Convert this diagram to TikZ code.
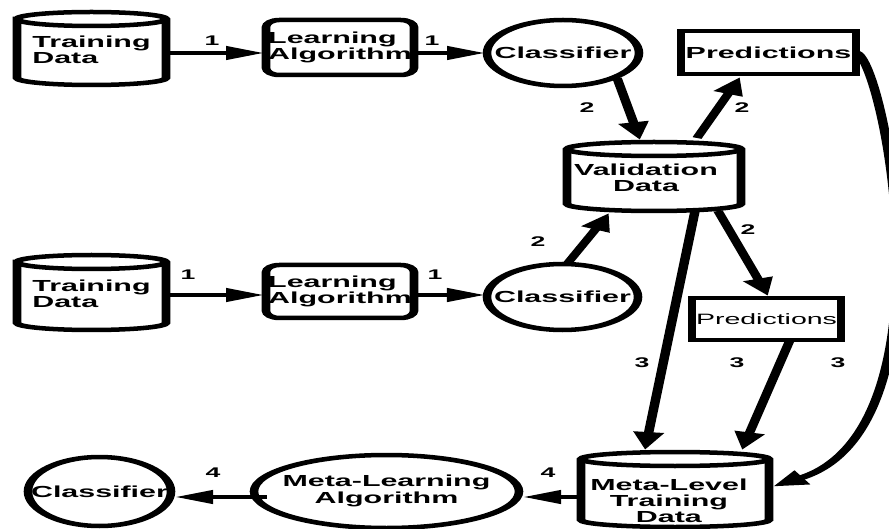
\documentclass[tikz,border=0pt]{standalone}
\usepackage{fontspec}
\setmainfont{Liberation Sans}
\usetikzlibrary{arrows.meta,calc,shapes.geometric}
\newcommand\cylpath[5]{%
  \draw[shp] (#1,{#2+#5}) -- (#1,{#4-#5})
    arc[start angle=180,end angle=360,x radius={(#3-#1)/2*0.526316pt},y radius=#5pt]
    -- (#3,{#2+#5})
    arc[start angle=0,end angle=180,x radius={(#3-#1)/2*0.526316pt},y radius=#5pt] -- cycle;
  \draw[shp,fill=none] (#1,{#2+#5}) arc[start angle=180,end angle=360,x radius={(#3-#1)/2*0.526316pt},y radius=#5pt];
}
\begin{document}
\begin{tikzpicture}[x=1pt,y=-1pt]
\fill[white] (0,0) rectangle (889,529);
\useasboundingbox (0,0) rectangle (889,529);
\begin{scope}[transform canvas={xscale=1.9}, x=0.526316pt, y=-1pt,
  every node/.style={font=\fontsize{16}{16}\selectfont\bfseries, inner sep=0pt, outer sep=0pt},
  shp/.style={line width=4.5pt, fill=white, draw=black},
  cylbox/.style={rectangle, draw=none},
  rbox/.style={rectangle, rounded corners=7pt, line width=4.5pt, draw, fill=white},
  pbox/.style={rectangle, line width=4.5pt, draw, fill=white},
  oval/.style={ellipse, line width=4.5pt, draw, fill=white},
  arrA/.style={line width=4pt, -{Triangle[length=20pt,width=13pt]}},
  arrB/.style={line width=5pt, -{Triangle[length=18pt,width=15pt]}},
  num/.style={font=\fontsize{14}{14}\selectfont\bfseries}]

% cylinders
\cylpath{17}{12}{166}{85}{7}
\node[cylbox, minimum width=78.4pt, minimum height=73pt, align=left] (td1) at (91.5,49.5) {Training\\Data};
\cylpath{567}{142}{741}{211}{7}
\node[cylbox, minimum width=91.6pt, minimum height=69pt,
  label={[name=valtxt, align=center, xshift=-4.2pt, yshift=-1.5pt]center:Validation\\Data}] (val) at (654,176.5) {};
\cylpath{17}{255}{166}{330}{7}
\node[cylbox, minimum width=78.4pt, minimum height=75pt, align=left] (td2) at (91.5,293.5) {Training\\Data};
\cylpath{581}{452}{769}{527}{7}
\node[cylbox, minimum width=98.9pt, minimum height=75pt,
  label={[name=mlttxt, align=center, xshift=-3.2pt, yshift=-11pt]center:Meta-Level\\Training\\Data}] (mlt) at (675,489.5) {};

% boxes
\node[rbox, minimum width=77.9pt, minimum height=55pt, align=left] (la1) at (340,47.5) {Learning\\Algorithm};
\node[rbox, minimum width=77.9pt, minimum height=53pt, align=left] (la2) at (340,291.5) {Learning\\Algorithm};
\node[pbox, minimum width=92.1pt, minimum height=43pt] (pr1) at (768.5,52.5) {Predictions};
\node[pbox, minimum width=78.4pt, minimum height=42pt, font=\fontsize{15}{15}\selectfont\mdseries] (pr2) at (766.5,319) {Predictions};

% ellipses
\node[oval, minimum width=80pt, minimum height=66pt] (cls1) at (563,53) {\makebox[0pt]{Classifier}};
\node[oval, minimum width=79.5pt, minimum height=66pt] (cls2) at (562.5,297) {\makebox[0pt]{Classifier}};
\node[oval, minimum width=75.3pt, minimum height=69pt] (cls3) at (99.5,491.5) {\makebox[0pt]{Classifier}};
\node[oval, minimum width=139.5pt, minimum height=73pt] (ml) at (386.5,491.5)
  {\makebox[0pt]{\begin{tabular}{@{}c@{}}Meta-Learning\\Algorithm\end{tabular}}};

% connectors
\draw[arrA] ($(td1.east)+(0,3.5)$) -- ($(la1.west)+(-2,5.5)$);
\draw[arrA] ($(la1.east)+(2,5.5)$) -- ($(cls1.west)+(-2,0)$);
\draw[arrA] ($(td2.east)+(0,1.5)$) -- ($(la2.west)+(-2,3.5)$);
\draw[arrA] ($(la2.east)+(2,3.5)$) -- ($(cls2.west)+(-2,-2)$);
\draw[arrB] ($(cls1.center)+(54,25)$) -- ($(val.north)+(-14,-2)$);
\draw[arrB] ($(val.north)+(43,-4)$) -- ($(pr1.south)+(-28.5,3)$);
\draw[arrB] ($(cls2.north)+(4.5,0)$) -- ($(val.south)+(-45,2)$);
\draw[arrB] ($(val.south)+(64,0)$) -- ($(pr2.north)+(1.5,-2)$);
\draw[arrB] ($(val.south)+(41,0)$) -- ($(mlt.north)+(-30,-2)$);
\draw[arrB] ($(pr2.south)+(23.5,0)$) -- ($(mlt.north)+(67,-2)$);
\draw[arrB] (pr1.east) .. controls (885,60) and (955,430) .. ($(mlt.east)+(4,-3)$);
\draw[arrA] ($(mlt.west)+(0,7.5)$) -- ($(ml.east)+(4,5.5)$);
\draw[arrA] ($(ml.west)+(13,5.5)$) -- ($(cls3.east)+(4,5.5)$);

% labels
\node[num] (l1) at (212,41) {1};
\node[num] (l2) at (432,41) {1};
\node[num] (l3) at (587,108) {2};
\node[num] (l4) at (742,108) {2};
\node[num] (l5) at (188,275) {1};
\node[num] (l6) at (435,275) {1};
\node[num] (l7) at (538,242) {2};
\node[num] (l8) at (748,230) {2};
\node[num] (l9) at (642,363) {3};
\node[num] (l10) at (737,363) {3};
\node[num] (l11) at (838,363) {3};
\node[num] (l12) at (548,473) {4};
\node[num] (l13) at (213,473) {4};
\end{scope}
\end{tikzpicture}
\end{document}
